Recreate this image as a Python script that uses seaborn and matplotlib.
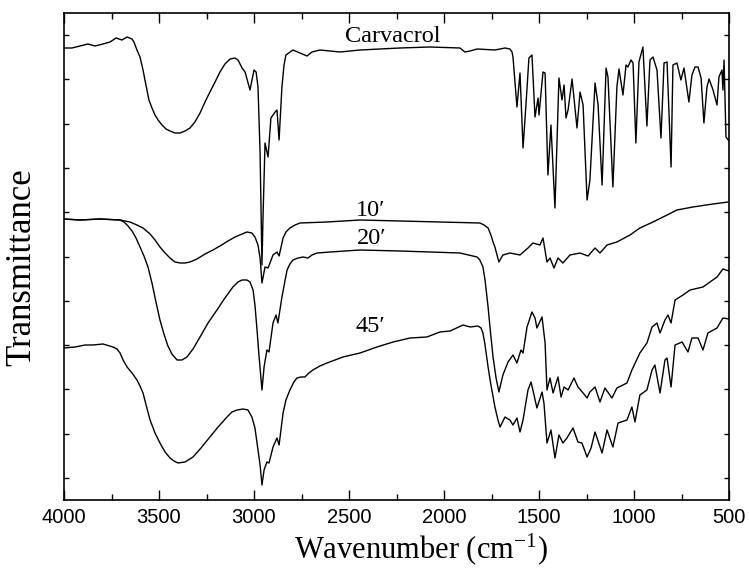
import matplotlib
matplotlib.use("Agg")
import matplotlib.pyplot as plt
from matplotlib.ticker import MultipleLocator, NullFormatter
import numpy as np
import pandas as pd
import seaborn as sns

# FTIR spectra, wavenumber (cm-1) vs. transmittance (arbitrary, offset units)
carvacrol_wn = [4000, 3958, 3916, 3874, 3837, 3795, 3758, 3726, 3695, 3668, 3642, 3632, 3616,
                3600, 3584, 3574, 3553, 3537, 3521, 3505, 3484, 3463, 3442, 3416, 3389, 3363,
                3337, 3311, 3284, 3258, 3232, 3205, 3179, 3153, 3126, 3100, 3084, 3063, 3047,
                3021, 3000, 2989, 2979, 2968, 2958, 2953, 2942, 2926, 2911, 2889, 2879, 2868,
                2853, 2842, 2832, 2795, 2758, 2721, 2695, 2653, 2547, 2442,
                2337, 2232, 2074, 1916, 1890, 1863, 1826, 1732, 1679, 1653, 1642,
                1637, 1616, 1600, 1584, 1568, 1553, 1537, 1521, 1505, 1500, 1479, 1468, 1453,
                1437, 1416, 1395, 1379, 1368, 1358, 1347, 1326, 1300, 1284, 1268, 1247, 1232,
                1205, 1189, 1168, 1147, 1137, 1111, 1090, 1079, 1058, 1042, 1032, 1016, 1005,
                990, 974, 953, 932, 916, 900, 879, 858, 842, 826, 805, 795, 774, 753, 737,
                711, 695, 679, 663, 647, 632, 616, 605, 584, 563, 553, 537, 532, 526, 516, 500]
carvacrol_t = [452, 452, 454, 456, 454, 456, 458, 462, 460, 463, 461, 458, 450,
               443, 430, 420, 400, 392, 385, 380, 375, 371, 369, 367, 367, 369,
               372, 378, 387, 398, 408, 418, 428, 436, 441, 442, 440, 432, 428,
               410, 430, 428, 413, 347, 235, 280, 357, 343, 382, 388, 390, 360,
               413, 435, 445, 450, 447, 444, 448, 450, 448, 450,
               451, 452, 453, 452, 448, 449, 451, 450, 452, 451, 448,
               443, 393, 427, 352, 397, 442, 445, 383, 402, 385, 428, 427, 325,
               375, 292, 422, 400, 415, 382, 390, 421, 372, 408, 395, 300, 320,
               417, 395, 315, 432, 423, 313, 413, 431, 405, 435, 433, 440, 437,
               357, 438, 453, 374, 440, 443, 430, 362, 437, 438, 333, 435, 437, 420, 432,
               398, 425, 433, 433, 422, 377, 413, 421, 410, 395, 423, 430, 410, 440, 363, 359]

min10_wn = [4000, 3916, 3811, 3705, 3653, 3616, 3584, 3547, 3521, 3495, 3468, 3442, 3416,
            3389, 3363, 3337, 3300, 3258, 3216, 3179, 3137, 3100, 3063, 3037, 3011, 2995,
            2979, 2968, 2958, 2942, 2926, 2900, 2879, 2868, 2847, 2832, 2811, 2784, 2758,
            2616, 2442, 2232, 1811, 1789, 1768, 1753, 1742, 1732, 1721, 1711, 1690, 1653,
            1600, 1558, 1532, 1495, 1479, 1458, 1442, 1421, 1400, 1374, 1337, 1284, 1242,
            1205, 1179, 1142, 1090, 1021, 969, 900, 826, 774, 690, 584, 505]
min10_t = [281, 280, 281, 280, 278, 275, 272, 266, 260, 253, 247, 242, 238,
           237, 237, 238, 241, 246, 250, 254, 259, 263, 266, 268, 267, 263,
           255, 242, 217, 233, 232, 245, 248, 244, 262, 268, 272, 275, 277,
           278, 280, 279, 277, 275, 272, 265, 258, 253, 245, 238, 245, 247,
           245, 252, 257, 255, 262, 238, 242, 232, 242, 237, 245, 247, 244,
           252, 247, 255, 258, 265, 272, 278, 285, 290, 293, 296, 298]

min20_wn = [4000, 3916, 3811, 3705, 3684, 3663, 3642, 3621, 3600, 3579, 3558, 3537, 3516,
            3495, 3474, 3453, 3432, 3405, 3379, 3353, 3321, 3284, 3242, 3195, 3153, 3111,
            3084, 3063, 3037, 3021, 3005, 2995, 2984, 2974, 2958, 2947, 2932, 2921, 2900,
            2884, 2874, 2853, 2826, 2811, 2795, 2768, 2742, 2716, 2695, 2668, 2600, 2521,
            2442, 2232, 1916, 1826, 1811, 1795, 1784, 1768, 1758, 1742, 1726, 1711, 1690,
            1663, 1637, 1616, 1595, 1584, 1563, 1537, 1521, 1511, 1484, 1468, 1458, 1442,
            1426, 1400, 1384, 1368, 1347, 1316, 1295, 1268, 1247, 1232, 1205, 1179, 1153,
            1116, 1090, 1037, 1011, 969, 932, 905, 879, 863, 837, 821, 805, 784, 742, 705,
            637, 563, 532, 500]
min20_t = [281, 280, 281, 280, 278, 274, 269, 262, 253, 244, 233, 217, 198,
           180, 166, 154, 146, 140, 140, 143, 151, 163, 177, 190, 202, 213,
           218, 220, 220, 218, 210, 195, 170, 145, 110, 133, 150, 148, 177,
           185, 177, 203, 230, 236, 240, 242, 243, 242, 245, 247, 248, 249,
           250, 249, 247, 243, 240, 233, 220, 193, 173, 143, 122, 108, 125,
           138, 145, 137, 150, 147, 173, 188, 182, 172, 183, 157, 110, 122,
           107, 123, 103, 113, 110, 122, 113, 107, 102, 108, 113, 98, 112,
           102, 112, 117, 130, 147, 157, 173, 177, 167, 180, 185, 177, 200, 205, 210,
           213, 223, 231, 229]

min45_wn = [4000, 3942, 3889, 3847, 3795, 3742, 3721, 3705, 3689, 3668, 3642, 3616, 3600,
            3584, 3568, 3547, 3521, 3495, 3468, 3442, 3421, 3400, 3363, 3321, 3279, 3232,
            3189, 3142, 3116, 3089, 3058, 3032, 3011, 2995, 2984, 2968, 2958, 2947, 2932,
            2921, 2900, 2879, 2868, 2847, 2832, 2811, 2790, 2774, 2753, 2732, 2711, 2690,
            2653, 2616, 2532, 2442, 2353, 2268, 2179, 2090, 2021, 1968, 1900, 1863, 1821,
            1805, 1795, 1784, 1768, 1753, 1732, 1716, 1705, 1679, 1653, 1637,
            1616, 1600, 1584, 1558, 1542, 1532, 1511, 1484, 1474, 1458, 1437, 1416, 1395,
            1374, 1353, 1321, 1295, 1274, 1247, 1226, 1205, 1168, 1142, 1111, 1084, 1037,
            1011, 995, 969, 932, 905, 890, 863, 837, 826, 805, 784, 747, 716, 695, 663,
            637, 611, 563, 532, 500]
min45_t = [152, 153, 155, 155, 156, 153, 151, 147, 140, 133, 127, 120, 114,
           107, 95, 80, 67, 57, 48, 42, 39, 37, 38, 43, 52, 63,
           73, 83, 88, 90, 91, 90, 83, 72, 57, 35, 15, 30, 38,
           37, 53, 62, 55, 87, 100, 110, 118, 122, 123, 123, 127, 130,
           134, 137, 143, 147, 153, 158, 162, 163, 168, 169, 175, 173, 174,
           172, 167, 155, 133, 115, 93, 80, 73, 83, 80, 75,
           82, 68, 80, 110, 118, 110, 92, 108, 97, 57, 70, 42, 65,
           57, 62, 72, 58, 57, 43, 52, 68, 47, 70, 53, 77, 80,
           93, 78, 105, 110, 130, 135, 107, 140, 142, 113, 155, 158, 148, 162, 162,
           150, 167, 172, 182, 181]

samples = ["Carvacrol", "10′", "20′", "45′"]
df = pd.concat([
    pd.DataFrame({"sample": s, "wn": w, "t": t})
    for s, w, t in zip(samples,
                       [carvacrol_wn, min10_wn, min20_wn, min45_wn],
                       [carvacrol_t, min10_t, min20_t, min45_t])
])

sns.set_theme(style="ticks")
plt.rcParams["font.family"] = ["Liberation Serif", "DejaVu Serif"]
plt.rcParams["mathtext.fontset"] = "custom"
plt.rcParams["mathtext.rm"] = "Liberation Serif"
plt.rcParams["mathtext.default"] = "regular"
plt.rcParams["text.color"] = "black"
plt.rcParams["axes.labelcolor"] = "black"

fig = plt.figure(figsize=(7.49, 5.68), dpi=100)
ax = fig.add_axes([64 / 749, 68 / 568, 665 / 749, 487 / 568])

sns.lineplot(data=df, x="wn", y="t", units="sample", estimator=None, sort=False,
             color="black", lw=1.0, ax=ax)

ax.set_xlim(4000, 500)
ax.set_ylim(0, 487)
ax.xaxis.set_major_locator(MultipleLocator(500))
ax.xaxis.set_minor_locator(MultipleLocator(250))
ax.set_yticks(np.arange(22, 487, 44.3))
ax.yaxis.set_major_formatter(NullFormatter())

ax.tick_params(axis="x", which="major", direction="in", length=7, width=1,
               top=True, bottom=True, labelsize=14.5, pad=6, colors="black")
ax.tick_params(axis="x", which="minor", direction="in", length=4.5, width=1,
               top=True, bottom=True, colors="black")
ax.tick_params(axis="y", which="major", direction="in", length=3.5, width=1,
               left=True, right=True, colors="black")
for lbl in ax.get_xticklabels():
    lbl.set_fontfamily(["Liberation Sans", "DejaVu Sans"])

for sp in ax.spines.values():
    sp.set_visible(True)
    sp.set_color("black")
    sp.set_linewidth(1.2)

ax.set_xlabel("Wavenumber (cm$^{-1}$)", fontsize=22)
ax.xaxis.set_label_coords(0.537, -0.064)
ax.set_ylabel("Transmittance", fontsize=25)
ax.yaxis.set_label_coords(-0.038, 0.478)

ax.text(2268, 463, "Carvacrol", fontsize=17.5, ha="center", va="center")
ax.text(2384, 290, "10′", fontsize=17.5, ha="center", va="center")
ax.text(2379, 262, "20′", fontsize=17.5, ha="center", va="center")
ax.text(2390, 174, "45′", fontsize=17.5, ha="center", va="center")

fig.savefig("out.png", dpi=100)
